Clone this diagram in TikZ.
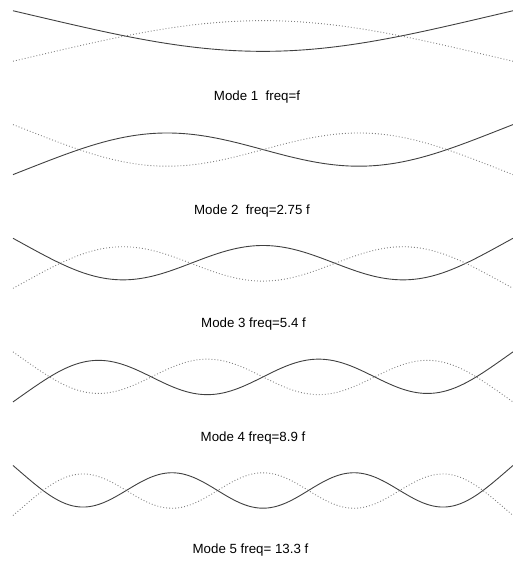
\documentclass[tikz,border=0pt]{standalone}
\usepackage{fontspec}
\setmainfont{Liberation Sans}
\begin{document}
\begin{tikzpicture}[x=1pt,y=1pt,
  declare function={
    chr(\t,\b) = (exp(\t-\b)+exp(-\t-\b))/(1+exp(-2*\b));
    shr(\t,\b) = (exp(\t-\b)-exp(-\t-\b))/(1-exp(-2*\b));
    phis(\t,\b) = cos(\b r)*chr(\t,\b) + cos(\t r);
    phia(\t,\b) = sin(\b r)*shr(\t,\b) + sin(\t r);
  },
  modeline/.style={line width=0.9pt, black!75},
  dotline/.style={line width=0.9pt, black!50, dash pattern=on 0.9pt off 2.1pt},
  modelabel/.style={font=\fontsize{13.3}{15}\selectfont, inner sep=0pt, anchor=center}]
\useasboundingbox (0,0) rectangle (513,565);
\def\amp{17.7}
% Mode 1 (symmetric), beta L = 4.7300, center py=36
\draw[modeline] plot[domain=13:513, samples=201] (\x, {565-36 - \amp*phis(4.7300*(\x-263)/500, 2.3650)});
\draw[dotline] plot[domain=13:513, samples=201] (\x, {565-36 + \amp*phis(4.7300*(\x-263)/500, 2.3650)});
\node[modelabel] (m1) at (257,565-97) {Mode 1\ \ freq=f};
% Mode 2 (antisymmetric), beta L = 7.8532, center py=149.6
\draw[modeline] plot[domain=13:513, samples=201] (\x, {565-149.6 - \amp*phia(7.8532*(\x-263)/500, 3.9266)});
\draw[dotline] plot[domain=13:513, samples=201] (\x, {565-149.6 + \amp*phia(7.8532*(\x-263)/500, 3.9266)});
\node[modelabel] (m2) at (252,565-210.6) {Mode 2\ \ freq=2.75 f};
% Mode 3 (symmetric), beta L = 10.9956, center py=263.3
\draw[modeline] plot[domain=13:513, samples=201] (\x, {565-263.3 + \amp*phis(10.9956*(\x-263)/500, 5.4978)});
\draw[dotline] plot[domain=13:513, samples=201] (\x, {565-263.3 - \amp*phis(10.9956*(\x-263)/500, 5.4978)});
\node[modelabel] (m3) at (253.5,565-324.3) {Mode 3 freq=5.4 f};
% Mode 4 (antisymmetric), beta L = 14.1372, center py=376.9
\draw[modeline] plot[domain=13:513, samples=201] (\x, {565-376.9 + \amp*phia(14.1372*(\x-263)/500, 7.0686)});
\draw[dotline] plot[domain=13:513, samples=201] (\x, {565-376.9 - \amp*phia(14.1372*(\x-263)/500, 7.0686)});
\node[modelabel] (m4) at (253,565-437.9) {Mode 4 freq=8.9 f};
% Mode 5 (symmetric), beta L = 17.2788, center py=490.5
\draw[modeline] plot[domain=13:513, samples=201] (\x, {565-490.5 - \amp*phis(17.2788*(\x-263)/500, 8.6394)});
\draw[dotline] plot[domain=13:513, samples=201] (\x, {565-490.5 + \amp*phis(17.2788*(\x-263)/500, 8.6394)});
\node[modelabel] (m5) at (250.5,565-550.5) {Mode 5 freq= 13.3 f};
\end{tikzpicture}
\end{document}
